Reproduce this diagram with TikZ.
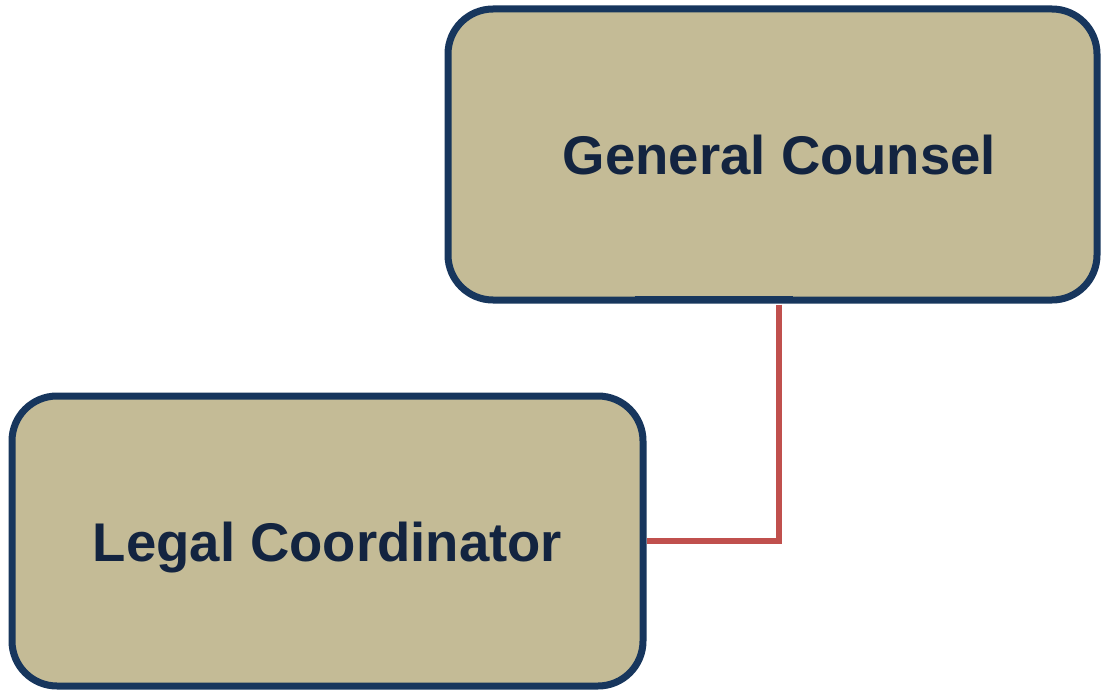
\documentclass[tikz,border=0pt]{standalone}
\usepackage{fontspec}
\setmainfont{Liberation Sans}
\definecolor{boxfill}{HTML}{C4BB96}
\definecolor{boxline}{HTML}{17365D}
\definecolor{txt}{HTML}{132440}
\definecolor{conn}{HTML}{C0504D}
\begin{document}
\begin{tikzpicture}[x=1pt,y=-1pt,
  orgbox/.style={draw=boxline, fill=boxfill, line width=7pt, rounded corners=45pt,
    text=txt, font=\fontsize{54.5}{60}\selectfont\bfseries,
    text height=40pt, text depth=0pt, inner sep=0pt},
  link/.style={draw=conn, line width=6pt}]
\useasboundingbox (0,0) rectangle (1104,693);
\fill[white] (0,0) rectangle (1104,693);
\node[orgbox, minimum width=649pt, minimum height=291pt] (gc) at (772.5,154.5) {\hspace*{14pt}General Counsel};
\node[orgbox, minimum width=631pt, minimum height=290pt] (lc) at (327.5,541) {Legal Coordinator};
\draw[link] ([xshift=6.5pt,yshift=-1pt]gc.south) |- (lc.east);
\draw[boxline, line width=7pt] ([xshift=-138pt,yshift=4.5pt]gc.south) -- ([xshift=20pt,yshift=4.5pt]gc.south);
\end{tikzpicture}
\end{document}
